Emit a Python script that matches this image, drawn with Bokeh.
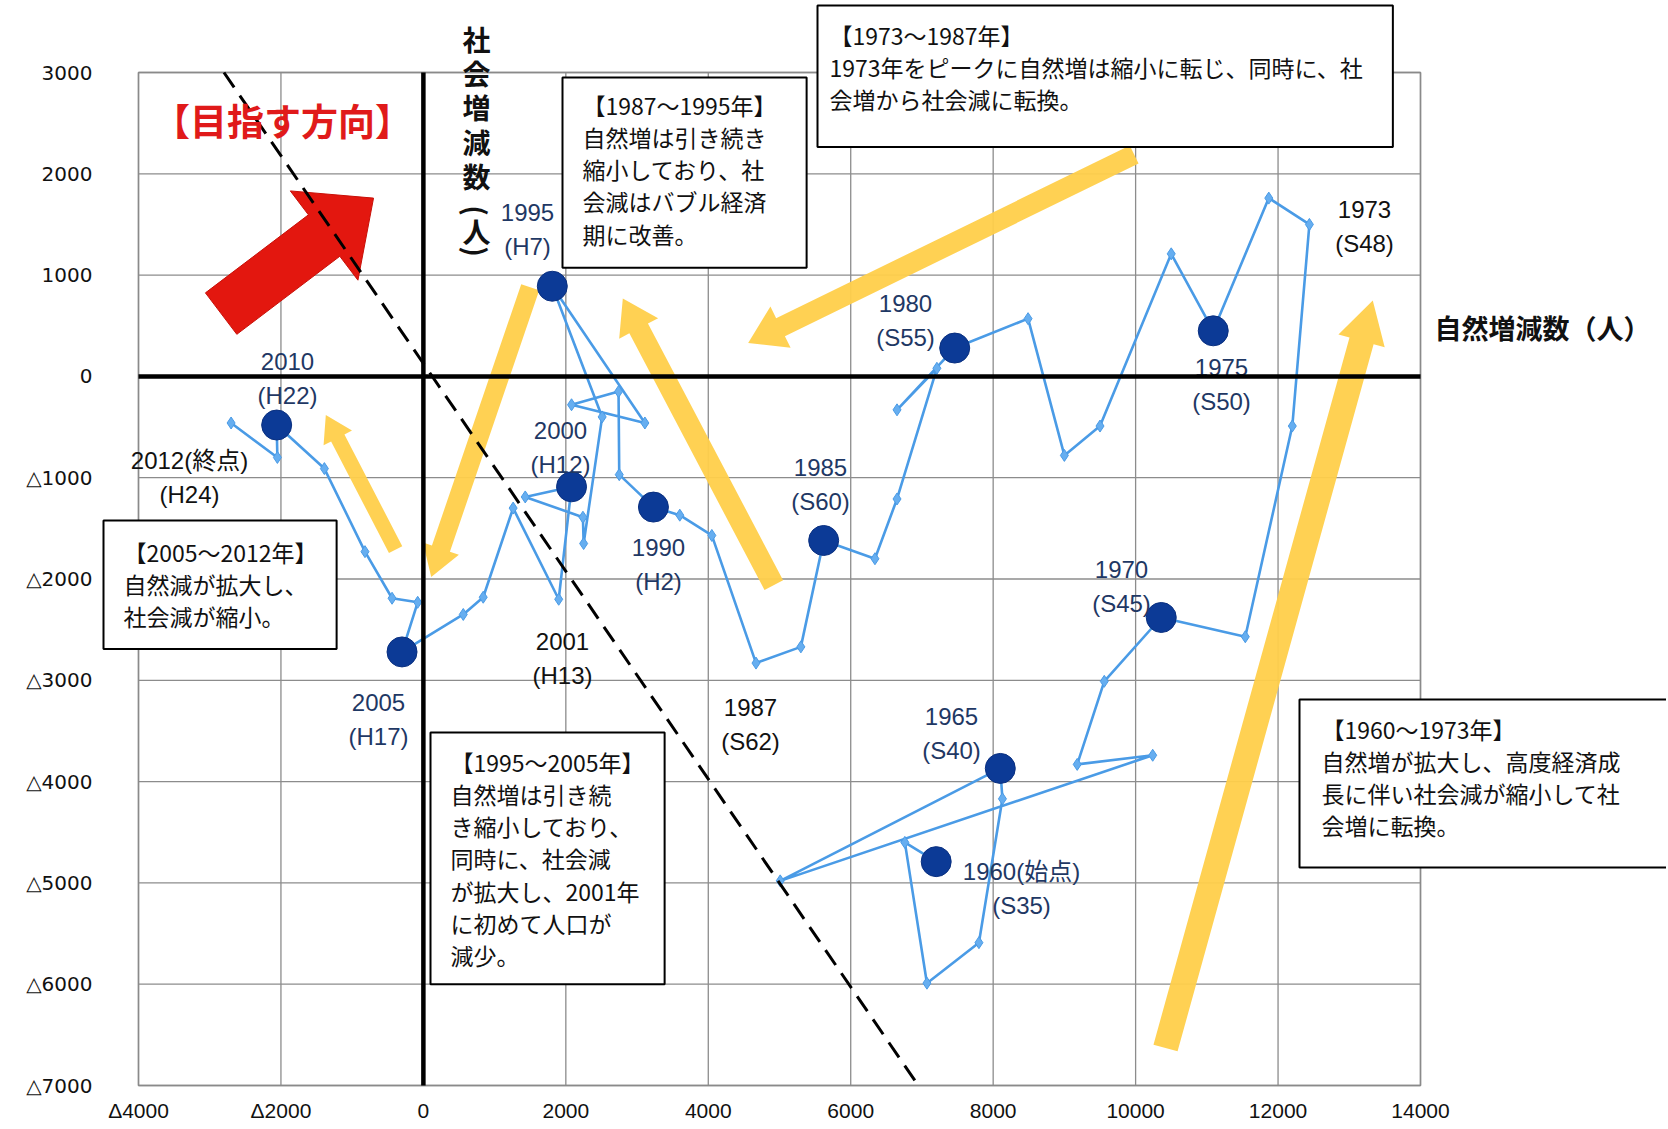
import math
from bokeh.plotting import figure
from bokeh.models import Range1d, FixedTicker, Label
from bokeh.core.properties import value
from bokeh.embed import file_html
from bokeh.resources import INLINE

# ---------------- data ----------------
years = list(range(1960, 2013))
natural = [7200, 6760, 7070, 7800, 8130, 8100, 5010, 10240, 9180, 9560,
           10360, 11540, 12200, 12440, 11870, 11090, 10500, 9500, 9000, 8490,
           7460, 6650, 7210, 6650, 6340, 5620, 5300, 4670, 4050, 3600,
           3230, 2750, 2740, 2080, 3110, 1810, 2510, 2250, 2240, 1430,
           2080, 1900, 1260, 840, 560, -300, -80, -440, -820, -1390,
           -2060, -2050, -2700]
social = [-4790, -4600, -5990, -5590, -4170, -3870, -4980, -3740, -3830, -3010,
          -2380, -2570, -490, 1500, 1760, 450, 1210, -490, -780, 570,
          280, -330, 80, -1210, -1800, -1620, -2670, -2830, -1570, -1370,
          -1290, -970, -150, -280, -460, 890, -400, -1650, -1390, -1190,
          -1090, -2200, -1300, -2180, -2350, -2720, -2230, -2190, -1730, -910,
          -480, -800, -460]

x_ticks = [-4000, -2000, 0, 2000, 4000, 6000, 8000, 10000, 12000, 14000]
x_tick_labels = ["Δ4000", "Δ2000", "0", "2000", "4000", "6000", "8000", "10000", "12000", "14000"]
y_ticks = [3000, 2000, 1000, 0, -1000, -2000, -3000, -4000, -5000, -6000, -7000]
y_tick_labels = ["3000", "2000", "1000", "0", "△1000", "△2000", "△3000", "△4000", "△5000", "△6000", "△7000"]

# guide line (target direction boundary)
guide_x = [-2800, 6900]
guide_y = [3000, -6950]

# trend arrows: (x_start, y_start, x_end, y_end)
trend_arrows = [
    (9980, 2190, 4560, 330),
    (4920, -2060, 2800, 770),
    (1500, 880, 110, -1980),
    (-390, -1710, -1370, -380),
    (10420, -6630, 13330, 750),
]
target_arrow = (-2840, 620, -700, 1760)

# point labels
label_texts = ["1995\n(H7)", "2010\n(H22)", "2012(終点)\n(H24)", "2000\n(H12)", "1990\n(H2)",
               "1985\n(S60)", "1980\n(S55)", "1975\n(S50)", "1973\n(S48)", "1970\n(S45)",
               "1965\n(S40)", "1960(始点)\n(S35)", "2001\n(H13)", "2005\n(H17)", "1987\n(S62)"]
label_colors = ["#1F3864", "#1F3864", "#111111", "#1F3864", "#1F3864",
                "#1F3864", "#1F3864", "#1F3864", "#111111", "#1F3864",
                "#1F3864", "#1F3864", "#111111", "#1F3864", "#111111"]

box_texts = [
    "【1973～1987年】\n1973年をピークに自然増は縮小に転じ、同時に、社\n会増から社会減に転換。",
    "【1987～1995年】\n自然増は引き続き\n縮小しており、社\n会減はバブル経済\n期に改善。",
    "【2005～2012年】\n自然減が拡大し、\n社会減が縮小。",
    "【1995～2005年】\n自然増は引き続\nき縮小しており、\n同時に、社会減\nが拡大し、2001年\nに初めて人口が\n減少。",
    "【1960～1973年】\n自然増が拡大し、高度経済成\n長に伴い社会減が縮小して社\n会増に転換。",
]

# ---------------- layout helpers (canvas pixels <-> data) ----------------
X0, X1, Y0, Y1 = -4000, 14000, -7000, 3000
FL, FR, FT, FB = 138, 1420, 72, 1085      # chart frame edges on the canvas
W, H = 1666, 1127


def to_data(px, py):
    return (X0 + (px - FL) / (FR - FL) * (X1 - X0),
            Y1 - (py - FT) / (FB - FT) * (Y1 - Y0))


def to_px(x, y):
    return (FL + (x - X0) / (X1 - X0) * (FR - FL),
            FT + (Y1 - y) / (Y1 - Y0) * (FB - FT))


def arrow_patch(a, shaft, head_w, head_l):
    x0, y0 = to_px(a[0], a[1])
    x1, y1 = to_px(a[2], a[3])
    dx, dy = x1 - x0, y1 - y0
    L = math.hypot(dx, dy)
    ux, uy = dx / L, dy / L
    nx, ny = -uy, ux
    bx, by = x1 - ux * head_l, y1 - uy * head_l
    pts = [
        (x0 + nx * shaft / 2, y0 + ny * shaft / 2),
        (bx + nx * shaft / 2, by + ny * shaft / 2),
        (bx + nx * head_w / 2, by + ny * head_w / 2),
        (x1, y1),
        (bx - nx * head_w / 2, by - ny * head_w / 2),
        (bx - nx * shaft / 2, by - ny * shaft / 2),
        (x0 - nx * shaft / 2, y0 - ny * shaft / 2),
    ]
    d = [to_data(px, py) for px, py in pts]
    return [q[0] for q in d], [q[1] for q in d]


JP = "Noto Sans CJK JP"
xs0, ys_top = to_data(0, 0)
xs1, ys_bot = to_data(W, H)

p = figure(width=W, height=H, output_backend="svg", toolbar_location=None,
           x_range=Range1d(xs0, xs1), y_range=Range1d(ys_bot, ys_top),
           min_border=0, min_border_left=0, min_border_right=0,
           min_border_top=0, min_border_bottom=0)
p.background_fill_color = "white"
p.border_fill_color = "white"
p.outline_line_color = None
p.grid.visible = False

# axes pinned to the chart frame edges
p.xaxis.fixed_location = Y0
p.yaxis.fixed_location = X0
p.xaxis.ticker = FixedTicker(ticks=x_ticks)
p.yaxis.ticker = FixedTicker(ticks=y_ticks)
p.xaxis.major_label_overrides = {t: l for t, l in zip(x_ticks, x_tick_labels)}
p.yaxis.major_label_overrides = {t: l for t, l in zip(y_ticks, y_tick_labels)}
for ax in (p.xaxis, p.yaxis):
    ax.axis_line_color = None
    ax.major_tick_line_color = None
    ax.minor_tick_line_color = None
    ax.major_label_text_color = "#111111"
p.xaxis.major_label_text_font = "Liberation Sans"
p.xaxis.major_label_text_font_size = "21px"
p.xaxis.major_label_standoff = 7
p.yaxis.major_label_text_font = "DejaVu Sans"
p.yaxis.major_label_text_font_size = "20px"
p.yaxis.major_label_standoff = 40

# grid and frame
p.segment(x0=x_ticks, y0=Y0, x1=x_ticks, y1=Y1, line_color="#8c8c8c", line_width=1.3)
p.segment(x0=X0, y0=y_ticks, x1=X1, y1=y_ticks, line_color="#8c8c8c", line_width=1.3)
p.quad(left=X0, right=X1, bottom=Y0, top=Y1, fill_color=None, line_color="#8a8a8a", line_width=1.5)

# trend arrows (yellow) and target arrow (red)
yellow_specs = [(20, 46, 36), (21, 44, 34), (19, 38, 30), (15, 32, 26), (25, 48, 42)]
for a, (sw, hw, hl) in zip(trend_arrows, yellow_specs):
    xs, ys = arrow_patch(a, sw, hw, hl)
    p.patch(xs, ys, fill_color="#FFCF4A", fill_alpha=0.95, line_color=None)

xs, ys = arrow_patch(target_arrow, 52, 112, 62)
p.patch(xs, ys, fill_color="#E3170F", line_color="#C81008", line_width=1)

# trajectory
p.line(natural, social, line_color="#4A9BE6", line_width=2.6)
p.scatter(natural, social, marker="diamond", size=12, fill_color="#66AEF0",
          line_color="#4A9BE6", line_width=1)
five_x = [x for yr, x in zip(years, natural) if yr % 5 == 0]
five_y = [y for yr, y in zip(years, social) if yr % 5 == 0]
p.scatter(five_x, five_y, marker="circle", size=30, fill_color="#0C3A96",
          line_color="#0A3080", line_width=1)

# dashed guide
p.line(guide_x, guide_y, line_color="black", line_width=3, line_dash="18 10")

# point labels
label_pos = [(527, 229), (287, 378), (189, 477), (560, 447), (658, 564),
             (820, 484), (905, 320), (1221, 384), (1364, 226), (1121, 586),
             (951, 733), (1021, 888), (562, 658), (378, 719), (750, 724)]
lx = [to_data(px, py)[0] for px, py in label_pos]
ly = [to_data(px, py)[1] for px, py in label_pos]
p.text(x=lx, y=ly, text=label_texts, text_color=label_colors,
       text_align="center", text_baseline="middle",
       text_font=value("Liberation Sans, Noto Sans CJK JP"),
       text_font_size="24px", text_line_height=1.25)

# bold zero axes
p.segment(x0=[0, X0], y0=[Y0, 0], x1=[0, X1], y1=[Y1, 0], line_color="black", line_width=4.5)

# annotation boxes: top-left corner (canvas px), padding l, r, t, b
box_pos = [(817, 5), (562, 77), (103, 520), (430, 732), (1299, 699)]
box_pad = [(12, 30, 12, 31), (20, 30, 10, 17), (20, 19, 14, 16), (20, 20, 12, 12), (22, 48, 12, 25)]
for t, (px, py), pad in zip(box_texts, box_pos, box_pad):
    x, y = to_data(px, py)
    p.add_layout(Label(x=x, y=y, text=t, text_align="left", text_baseline="top",
                       text_font=JP, text_font_size="23px", text_line_height=0.95,
                       text_color="#111111",
                       padding=dict(left=pad[0], right=pad[1], top=pad[2], bottom=pad[3]),
                       border_line_color="black", border_line_width=2,
                       background_fill_color="white"))

# titles
x, y = to_data(282, 119)
p.add_layout(Label(x=x, y=y, text="【目指す方向】", text_align="center", text_baseline="middle",
                   text_font=JP, text_font_size="37px", text_font_style="bold",
                   text_color="#E01A1A"))
x, y = to_data(1542, 327)
p.add_layout(Label(x=x, y=y, text="自然増減数（人）", text_align="center", text_baseline="middle",
                   text_font=JP, text_font_size="27px", text_font_style="bold",
                   text_color="#111111"))
x, y = to_data(476, 18)
p.add_layout(Label(x=x, y=y, text="社\n会\n増\n減\n数", text_align="center", text_baseline="top",
                   text_font=JP, text_font_size="28px", text_font_style="bold",
                   text_line_height=0.86, text_color="#111111"))
# vertical "(人)": parentheses turned a quarter clockwise as in vertical writing
for ch, cy, ang in (("(", 210, -math.pi / 2), ("人", 230, 0.0), (")", 251, -math.pi / 2)):
    x, y = to_data(476, cy)
    p.add_layout(Label(x=x, y=y, text=ch, text_align="center", text_baseline="middle",
                       angle=ang, text_font=JP, text_font_size="28px",
                       text_font_style="bold", text_color="#111111"))

open("out.html", "w").write(file_html(p, INLINE))
